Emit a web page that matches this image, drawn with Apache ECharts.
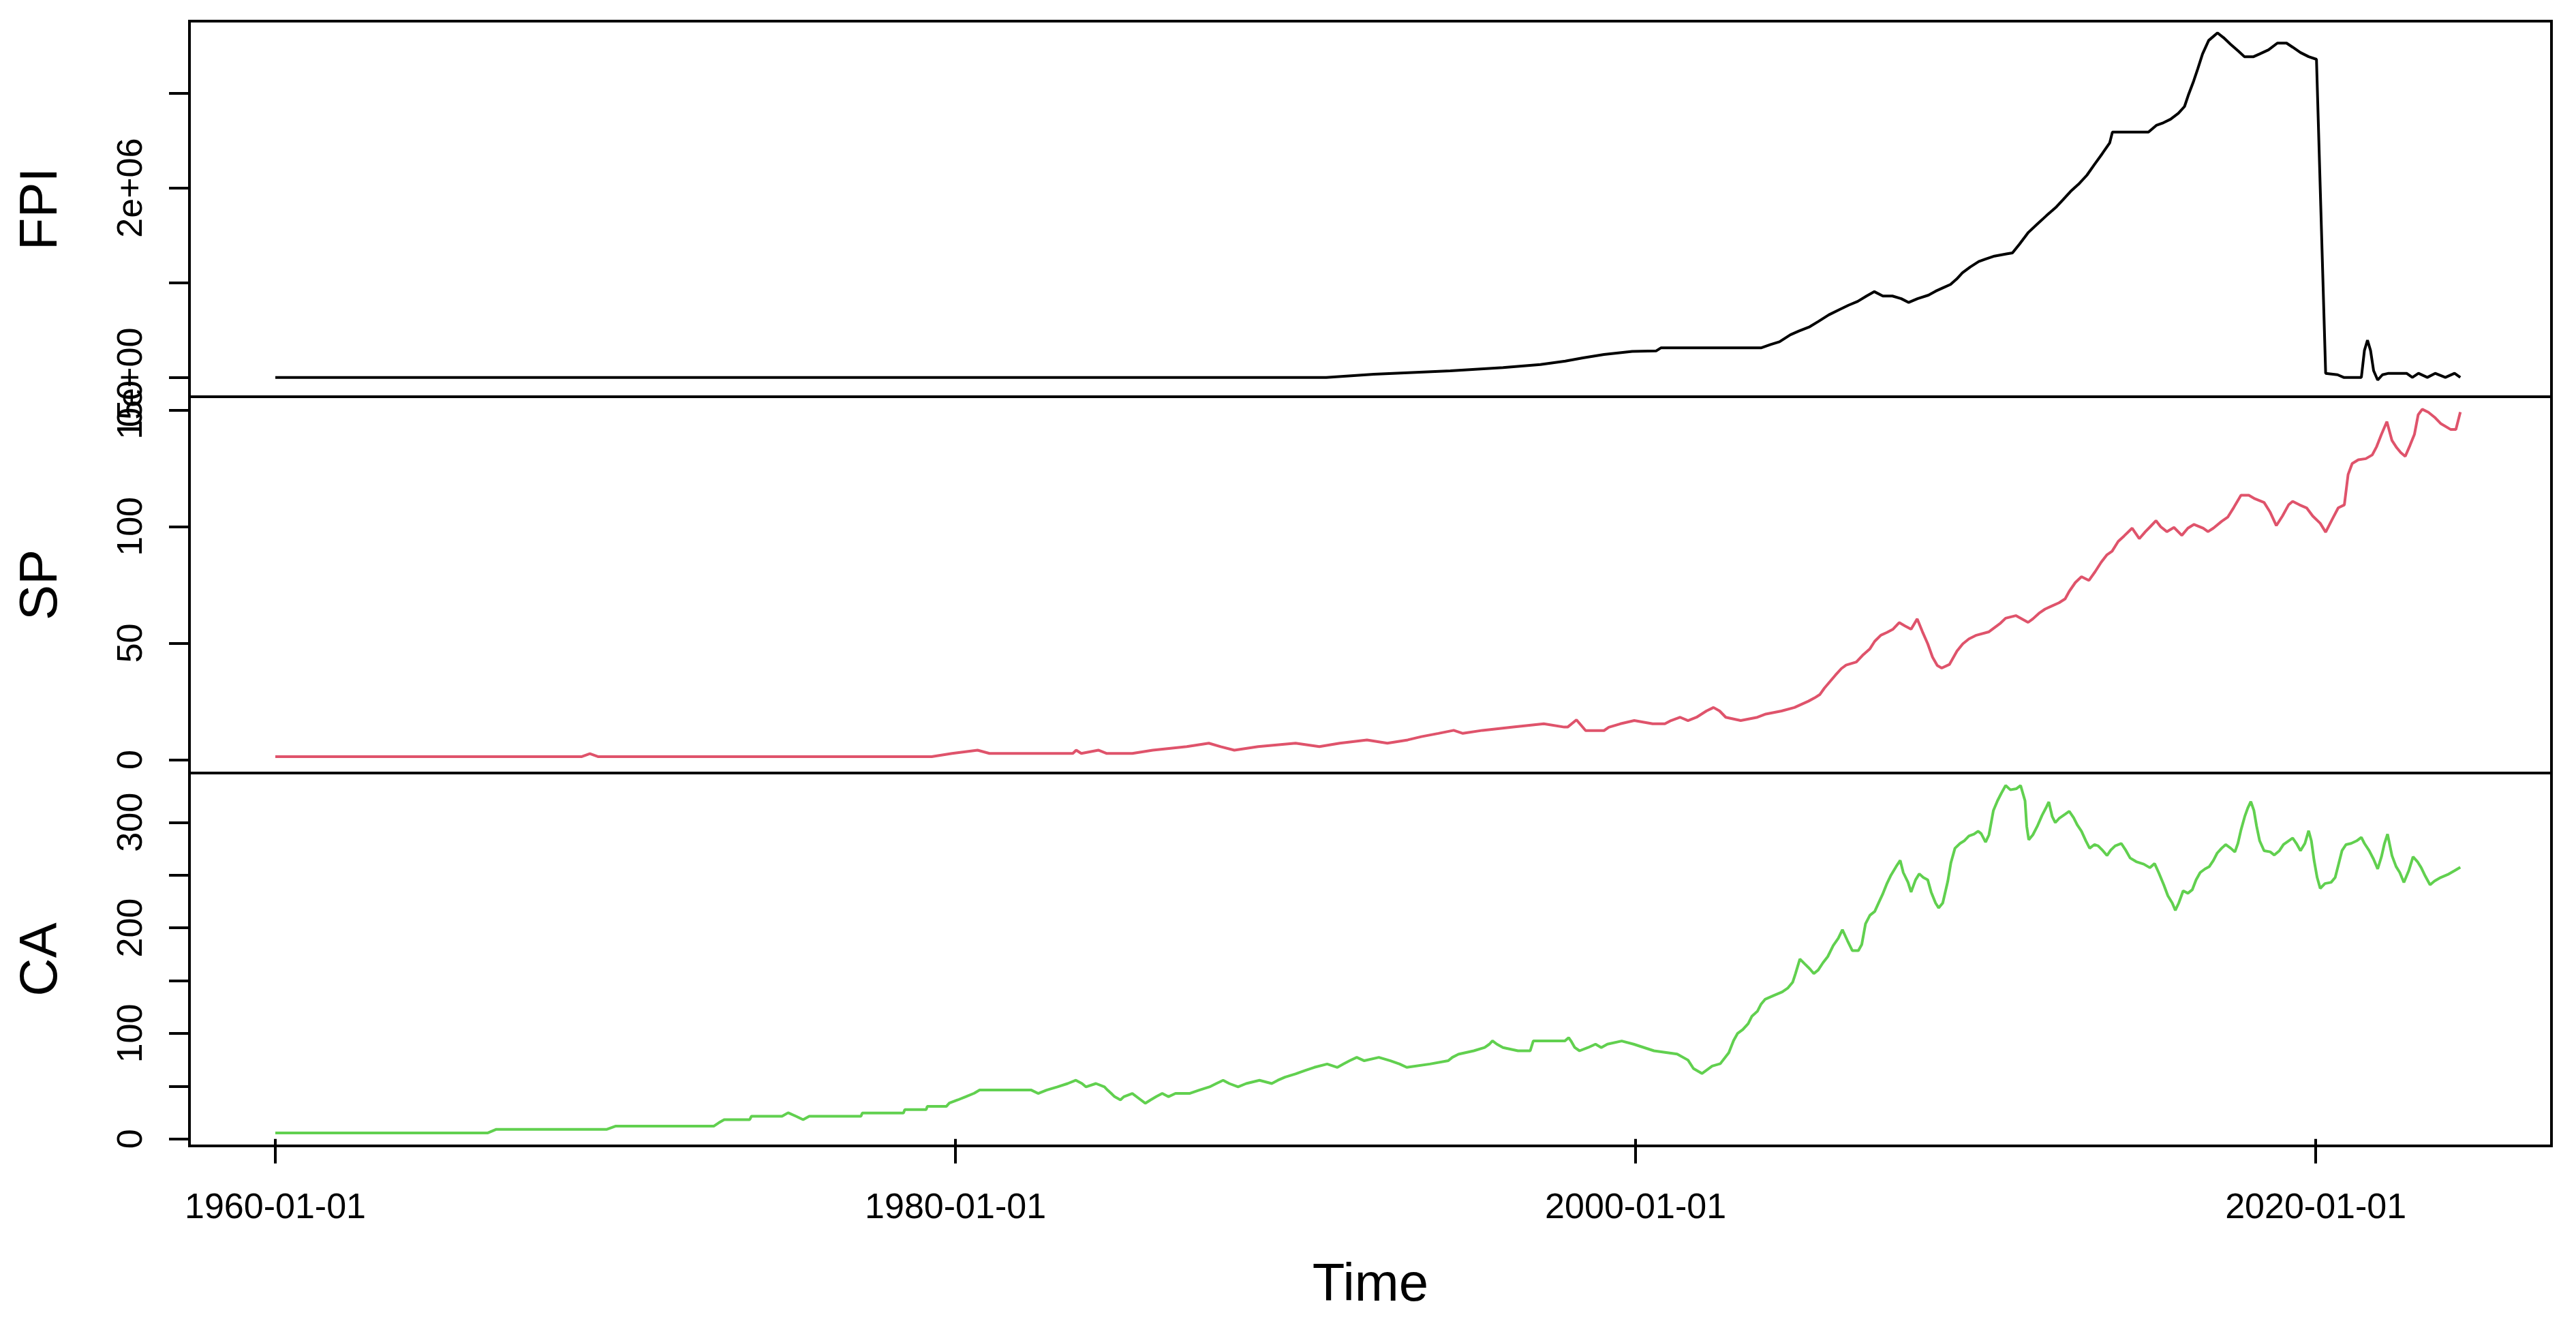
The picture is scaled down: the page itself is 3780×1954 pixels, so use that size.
<!DOCTYPE html>
<html>
<head>
<meta charset="utf-8">
<script src="https://cdn.jsdelivr.net/npm/echarts@6/dist/echarts.min.js"></script>
<style>
  html, body { margin: 0; padding: 0; background: #fff; }
  #chart { width: 3780px; height: 1954px; }
</style>
</head>
<body>
<div id="chart"></div>
<script>
// tick positions / labels
var xTicks = [1960, 1980, 2000, 2020];
var fpiTicks = [0, 1, 2, 3];          // millions
var fpiLabels = [0, 2];
var spTicks = [0, 50, 100, 150];
var caTicks = [0, 50, 100, 150, 200, 250, 300];
var caLabels = [0, 100, 200, 300];

// FPI, in millions: [year, value]
var fpiPoints = [
  [1960, 0], [1990.9, 0], [1992.3, 0.033], [1994.55, 0.069], [1996.1, 0.103], [1997.2, 0.136],
  [1997.93, 0.172], [1998.45, 0.206], [1999.07, 0.242], [1999.9, 0.275], [2000.6, 0.279],
  [2000.75, 0.313], [2003.7, 0.313], [2003.97, 0.347], [2004.23, 0.376], [2004.55, 0.45],
  [2004.8, 0.489], [2005.12, 0.535], [2005.38, 0.592], [2005.68, 0.66], [2006.0, 0.717],
  [2006.26, 0.762], [2006.53, 0.802], [2006.79, 0.859], [2007.02, 0.905], [2007.27, 0.859],
  [2007.55, 0.859], [2007.81, 0.831], [2008.03, 0.791], [2008.29, 0.831], [2008.61, 0.868],
  [2008.82, 0.91], [2009.03, 0.944], [2009.26, 0.981], [2009.44, 1.038], [2009.61, 1.104],
  [2009.84, 1.166], [2010.09, 1.223], [2010.27, 1.246], [2010.55, 1.28], [2010.9, 1.303],
  [2011.08, 1.314], [2011.29, 1.408], [2011.55, 1.531], [2011.82, 1.622], [2012.08, 1.707],
  [2012.35, 1.792], [2012.56, 1.872], [2012.79, 1.963], [2013.05, 2.048], [2013.27, 2.134],
  [2013.49, 2.247], [2013.72, 2.361], [2013.94, 2.475], [2014.02, 2.589], [2015.08, 2.589],
  [2015.31, 2.66], [2015.52, 2.688], [2015.73, 2.725], [2015.96, 2.788], [2016.14, 2.859],
  [2016.26, 2.987], [2016.41, 3.129], [2016.53, 3.257], [2016.67, 3.414], [2016.85, 3.556],
  [2016.99, 3.599], [2017.11, 3.636], [2017.29, 3.585], [2017.5, 3.514], [2017.73, 3.442],
  [2017.9, 3.385], [2018.17, 3.385], [2018.35, 3.414], [2018.61, 3.457], [2018.87, 3.528],
  [2019.14, 3.528], [2019.32, 3.485], [2019.55, 3.428], [2019.79, 3.385], [2020.02, 3.357],
  [2020.29, 0.043], [2020.64, 0.028], [2020.82, 0], [2021.34, 0], [2021.43, 0.284],
  [2021.52, 0.393], [2021.61, 0.284], [2021.7, 0.071], [2021.82, -0.028], [2021.96, 0.028],
  [2022.14, 0.043], [2022.67, 0.043], [2022.84, 0], [2023.02, 0.043], [2023.28, 0],
  [2023.51, 0.043], [2023.81, 0], [2024.08, 0.043], [2024.25, 0]
];

var spPoints = [
  [1960, 1.3], [1969.0, 1.3], [1969.25, 2.6], [1969.5, 1.3], [1979.3, 1.3], [1979.9, 2.7],
  [1980.65, 4.1], [1981.0, 2.7], [1983.45, 2.7], [1983.55, 4.1], [1983.7, 2.7], [1984.2, 4.1],
  [1984.45, 2.7], [1985.2, 2.7], [1985.8, 4.1], [1986.8, 5.6], [1987.45, 7.1], [1987.8, 5.6],
  [1988.2, 4.1], [1988.9, 5.6], [1990.0, 7.1], [1990.7, 5.6], [1991.3, 7.1], [1992.1, 8.5],
  [1992.7, 7.1], [1993.3, 8.5], [1993.7, 9.9], [1994.2, 11.3], [1994.65, 12.6], [1994.92, 11.3],
  [1995.5, 12.6], [1996.4, 14], [1997.3, 15.4], [1997.9, 14], [1998.0, 14], [1998.26, 17.1],
  [1998.53, 12.5], [1999.07, 12.5], [1999.21, 13.9], [1999.55, 15.4], [1999.96, 16.8],
  [2000.5, 15.4], [2000.86, 15.4], [2001.04, 16.8], [2001.31, 18.2], [2001.54, 16.8],
  [2001.79, 18.2], [2002.08, 20.9], [2002.29, 22.4], [2002.47, 20.9], [2002.65, 18.2],
  [2003.09, 16.8], [2003.58, 18.2], [2003.83, 19.6], [2004.29, 20.9], [2004.67, 22.4],
  [2004.88, 23.8], [2005.08, 25.1], [2005.26, 26.5], [2005.42, 28], [2005.55, 30.7],
  [2005.72, 33.6], [2005.87, 36.2], [2006.05, 39.1], [2006.19, 40.6], [2006.49, 41.9],
  [2006.67, 44.7], [2006.89, 47.6], [2007.03, 50.8], [2007.21, 53.4], [2007.39, 54.6],
  [2007.57, 56], [2007.75, 58.8], [2007.92, 57.4], [2008.1, 56], [2008.28, 60.4],
  [2008.43, 55], [2008.59, 49.7], [2008.73, 44], [2008.87, 40.4], [2009.0, 39.3],
  [2009.23, 40.9], [2009.45, 46.6], [2009.62, 49.7], [2009.8, 51.8], [2010.02, 53.4],
  [2010.38, 54.8], [2010.73, 58.6], [2010.88, 60.7], [2011.18, 61.8], [2011.54, 58.9],
  [2011.68, 60.4], [2011.86, 62.8], [2012.04, 64.6], [2012.22, 65.8], [2012.45, 67.3],
  [2012.63, 69], [2012.75, 72.2], [2012.93, 76], [2013.11, 78.5], [2013.33, 76.9],
  [2013.51, 80.6], [2013.69, 84.7], [2013.86, 87.9], [2014.01, 89.4], [2014.19, 93.6],
  [2014.36, 95.9], [2014.6, 99.3], [2014.81, 94.8], [2014.99, 97.8], [2015.13, 99.9],
  [2015.3, 102.5], [2015.44, 99.9], [2015.62, 97.8], [2015.83, 99.6], [2016.06, 96.2],
  [2016.24, 99.3], [2016.42, 100.9], [2016.69, 99.3], [2016.83, 97.8], [2016.99, 99.3],
  [2017.23, 102.2], [2017.41, 104], [2017.59, 108.2], [2017.8, 113.4], [2018.03, 113.4],
  [2018.21, 111.9], [2018.48, 110.3], [2018.66, 106.1], [2018.84, 100.4], [2019.02, 104.5],
  [2019.2, 109.3], [2019.32, 110.8], [2019.52, 109.3], [2019.73, 108], [2019.91, 104.5],
  [2020.13, 101.4], [2020.29, 97.6], [2020.48, 103], [2020.66, 108], [2020.84, 109.3],
  [2020.95, 122.3], [2021.07, 127], [2021.25, 128.6], [2021.47, 129.1], [2021.66, 130.7],
  [2021.79, 134.3], [2021.93, 139.5], [2022.09, 145], [2022.24, 136.9], [2022.38, 133.8],
  [2022.5, 131.7], [2022.63, 130.1], [2022.77, 134.8], [2022.9, 139.5], [2023.01, 147.9],
  [2023.13, 150.3], [2023.31, 149], [2023.49, 146.9], [2023.67, 144.2], [2023.97, 141.6],
  [2024.12, 141.6], [2024.25, 149.1]
];

var caPoints = [
  [1960, 5.7], [1966.25, 5.7], [1966.5, 9.1], [1969.75, 9.1], [1970.0, 12.1], [1972.89, 12.1],
  [1973.04, 15.3], [1973.2, 18.3], [1973.95, 18.3], [1974.0, 21.5], [1974.9, 21.5],
  [1975.08, 24.8], [1975.31, 21.5], [1975.52, 18.3], [1975.7, 21.5], [1977.22, 21.5],
  [1977.26, 24.6], [1978.47, 24.6], [1978.51, 27.8], [1979.14, 27.8], [1979.17, 30.8],
  [1979.73, 30.8], [1979.82, 34], [1980.07, 37], [1980.3, 40], [1980.55, 43.3], [1980.71, 46.3],
  [1982.23, 46.3], [1982.43, 43.1], [1982.68, 46.3], [1983.0, 49.3], [1983.3, 52.5],
  [1983.54, 55.6], [1983.72, 52.5], [1983.84, 49.3], [1984.13, 52.5], [1984.38, 49.3],
  [1984.47, 46.3], [1984.58, 43.1], [1984.68, 40], [1984.85, 37], [1984.95, 40], [1985.2, 43.1],
  [1985.45, 37], [1985.58, 33.8], [1985.74, 37], [1985.9, 40], [1986.08, 43.1], [1986.26, 40],
  [1986.47, 43.1], [1986.88, 43.1], [1987.17, 46.3], [1987.47, 49.3], [1987.67, 52.5],
  [1987.87, 55.6], [1988.05, 52.5], [1988.31, 49.3], [1988.55, 52.5], [1988.94, 55.6],
  [1989.3, 52.5], [1989.48, 55.6], [1989.69, 58.6], [1990.0, 61.6], [1990.28, 64.8],
  [1990.55, 67.8], [1990.93, 71], [1991.23, 67.8], [1991.41, 71], [1991.59, 74.1],
  [1991.8, 77.3], [1992.02, 74.1], [1992.45, 77.3], [1992.79, 74.1], [1993.06, 71],
  [1993.27, 67.8], [1993.95, 71], [1994.49, 74.1], [1994.61, 77.3], [1994.79, 80.3],
  [1995.24, 83.5], [1995.56, 86.6], [1995.7, 89.8], [1995.79, 93], [1995.92, 89.8],
  [1996.1, 86.6], [1996.54, 83.5], [1996.9, 83.5], [1996.99, 92.8], [1997.92, 92.8],
  [1998.03, 96], [1998.1, 92.8], [1998.21, 86.6], [1998.35, 83.5], [1998.6, 86.6],
  [1998.82, 89.8], [1998.99, 86.6], [1999.17, 89.8], [1999.59, 92.8], [1999.94, 89.8],
  [2000.54, 83.5], [2001.22, 80.5], [2001.54, 74.7], [2001.7, 66.7], [2001.95, 62],
  [2002.25, 69], [2002.49, 71.3], [2002.74, 81.7], [2002.88, 93.2], [2003.0, 100.1],
  [2003.15, 103.6], [2003.31, 109.3], [2003.42, 116.3], [2003.58, 120.9], [2003.69, 127.8],
  [2003.81, 132.4], [2004.06, 135.9], [2004.31, 139.3], [2004.47, 142.8], [2004.62, 148.6],
  [2004.7, 156.6], [2004.83, 170.5], [2004.97, 165.9], [2005.12, 161.2], [2005.24, 156.6],
  [2005.37, 160.1], [2005.51, 167], [2005.65, 172.8], [2005.81, 183.2], [2005.96, 190.1],
  [2006.08, 198.2], [2006.23, 187.8], [2006.37, 178.5], [2006.55, 178.5], [2006.65, 184.3],
  [2006.76, 203.9], [2006.89, 212], [2007.03, 215.5], [2007.16, 224.7], [2007.26, 231.6],
  [2007.39, 242], [2007.51, 250], [2007.66, 258.1], [2007.78, 263.9], [2007.87, 252.4],
  [2008.01, 243.1], [2008.1, 233.9], [2008.23, 245.4], [2008.34, 251.2], [2008.46, 247.7],
  [2008.59, 245.4], [2008.69, 233.9], [2008.82, 223.5], [2008.91, 218.9], [2009.03, 223.5],
  [2009.18, 244.3], [2009.27, 261.6], [2009.39, 275.4], [2009.54, 280], [2009.66, 282.4],
  [2009.8, 287], [2009.95, 288.8], [2010.07, 291.6], [2010.16, 289.3], [2010.29, 281.2],
  [2010.39, 288.1], [2010.52, 311.2], [2010.64, 320.4], [2010.75, 327.3], [2010.88, 334.9],
  [2011.02, 330.8], [2011.2, 331.9], [2011.32, 334.9], [2011.45, 320.4], [2011.5, 296.2],
  [2011.56, 283.5], [2011.68, 288.1], [2011.81, 296.2], [2011.95, 306.6], [2012.08, 314.6],
  [2012.15, 319.3], [2012.25, 305.4], [2012.34, 299.7], [2012.45, 303.6], [2012.63, 307.7],
  [2012.75, 310.5], [2012.88, 304.3], [2012.99, 297.3], [2013.11, 291.6], [2013.24, 282.4],
  [2013.35, 275.4], [2013.49, 278.9], [2013.6, 277.7], [2013.74, 273.1], [2013.86, 268.5],
  [2013.97, 273.6], [2014.1, 277.7], [2014.28, 280], [2014.42, 273.1], [2014.54, 266.2],
  [2014.72, 262.7], [2014.94, 260.4], [2015.12, 257], [2015.26, 260.9], [2015.38, 252.4],
  [2015.53, 240.8], [2015.65, 230.4], [2015.78, 223.5], [2015.87, 216.6], [2015.97, 223.5],
  [2016.1, 235.1], [2016.24, 232.8], [2016.37, 236.2], [2016.48, 245.4], [2016.6, 252.4],
  [2016.74, 255.8], [2016.87, 258.1], [2016.99, 263.9], [2017.1, 270.8], [2017.23, 275.4],
  [2017.35, 278.9], [2017.5, 275.4], [2017.62, 271.9], [2017.71, 280], [2017.8, 292.7],
  [2017.91, 305.4], [2018.0, 313.5], [2018.09, 319.7], [2018.18, 311.2], [2018.26, 296.2],
  [2018.35, 282.4], [2018.48, 273.1], [2018.66, 272], [2018.78, 269], [2018.93, 273.1],
  [2019.05, 278.9], [2019.2, 282.4], [2019.32, 285.1], [2019.43, 280], [2019.55, 273.1],
  [2019.68, 280], [2019.79, 292], [2019.87, 282.4], [2019.95, 263.9], [2020.04, 247.7],
  [2020.13, 237.4], [2020.27, 242], [2020.45, 243.1], [2020.57, 247.7], [2020.68, 261.6],
  [2020.77, 273.1], [2020.89, 278.9], [2021.04, 280], [2021.2, 282.4], [2021.34, 285.8],
  [2021.43, 280], [2021.57, 273.1], [2021.7, 265], [2021.82, 255.8], [2021.93, 267.3],
  [2022.02, 280], [2022.11, 288.8], [2022.24, 268.5], [2022.36, 258.1], [2022.47, 252.4],
  [2022.59, 243.1], [2022.74, 254.7], [2022.86, 267.3], [2022.99, 262.7], [2023.1, 257],
  [2023.22, 249], [2023.36, 240.8], [2023.49, 244.3], [2023.67, 247.7], [2023.88, 250.5],
  [2024.08, 254.2], [2024.25, 257.4]
];

var FONT = '"Liberation Sans", Arial, sans-serif';
var LW = 4;

var chart = echarts.init(document.getElementById('chart'), null, { renderer: 'canvas' });

function gridBox(top, height) {
    return {
        left: 278, right: 36, top: top, height: height,
        show: true, borderColor: '#000', borderWidth: LW,
        backgroundColor: 'transparent', containLabel: false
    };
}

function xAx(idx, showTicks) {
    return {
        type: 'value',
        gridIndex: idx,
        min: 1957.475,
        max: 2026.93,
        axisLine: { show: false },
        splitLine: { show: false },
        axisTick: {
            show: showTicks,
            customValues: xTicks,
            length: 36,
            lineStyle: { color: '#000', width: LW }
        },
        axisLabel: {
            show: showTicks,
            customValues: xTicks,
            margin: 66,
            fontSize: 52,
            fontFamily: FONT,
            color: '#000',
            formatter: function (v) { return v + '-01-01'; }
        },
        name: showTicks ? 'Time' : '',
        nameLocation: 'middle',
        nameGap: 166,
        nameTextStyle: { fontSize: 78, fontFamily: FONT, color: '#000' }
    };
}

function yAx(idx, name, min, max, ticks, labels, fmt) {
    return {
        type: 'value',
        gridIndex: idx,
        min: min,
        max: max,
        axisLine: { show: false },
        splitLine: { show: false },
        axisTick: {
            show: true,
            customValues: ticks,
            length: 30,
            lineStyle: { color: '#000', width: LW }
        },
        axisLabel: {
            customValues: labels,
            rotate: 90,
            margin: 58,
            fontSize: 52,
            fontFamily: FONT,
            color: '#000',
            formatter: fmt
        },
        name: name,
        nameLocation: 'middle',
        nameRotate: 90,
        nameGap: 178,
        nameTextStyle: { fontSize: 78, fontFamily: FONT, color: '#000' }
    };
}

function lineSeries(idx, pts, color) {
    return {
        type: 'line',
        xAxisIndex: idx,
        yAxisIndex: idx,
        data: pts,
        showSymbol: false,
        symbol: 'none',
        lineStyle: { color: color, width: LW },
        itemStyle: { color: color },
        silent: true
    };
}

var option = {
    backgroundColor: '#fff',
    animation: false,
    grid: [gridBox(31, 551), gridBox(582, 552), gridBox(1134, 547)],
    xAxis: [xAx(0, false), xAx(1, false), xAx(2, true)],
    yAxis: [
        yAx(0, 'FPI', -0.204, 3.76, fpiTicks, fpiLabels, function (v) {
            return v === 0 ? '0e+00' : v + 'e+06';
        }),
        yAx(1, 'SP', -5.7, 155.66, spTicks, spTicks, function (v) { return String(v); }),
        yAx(2, 'CA', -6.6, 346.7, caTicks, caLabels, function (v) { return String(v); })
    ],
    series: [
        lineSeries(0, fpiPoints, '#000000'),
        lineSeries(1, spPoints, '#DF536B'),
        lineSeries(2, caPoints, '#61D04F')
    ]
};
chart.setOption(option);
window.addEventListener('resize', function () {
    chart.resize();
});
</script>
</body>
</html>
